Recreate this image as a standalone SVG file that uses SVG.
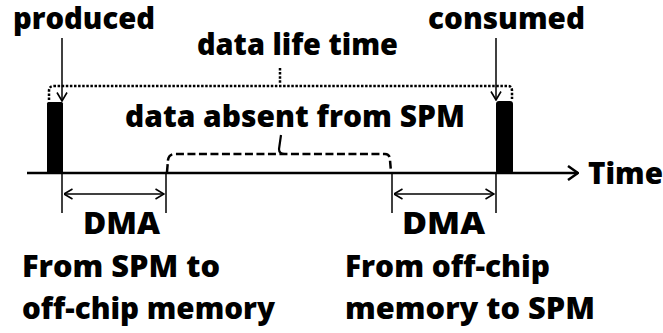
<svg xmlns="http://www.w3.org/2000/svg" width="663" height="333" viewBox="0 0 663 333">
  <style>
    .lbl { font-family: "Open Sans", Lato, "Liberation Sans", sans-serif; font-weight: 800; font-size: 29.5px; fill: #000; }
    .ln { stroke: #000; fill: none; }
    .axis { stroke-width: 2.5; }
    .thin { stroke-width: 1.5; }
    .dot { stroke-width: 2.5; stroke-dasharray: 2.5 1.6; }
    .dash { stroke-width: 2.5; stroke-dasharray: 8 3.5; }
    .bar { fill: #000; }
  </style>
  <defs>
    <marker id="head" viewBox="0 0 10 12" refX="9.5" refY="6" markerWidth="10" markerHeight="12" markerUnits="userSpaceOnUse" orient="auto-start-reverse">
      <path d="M1,1 L9.5,6 L1,11" fill="none" stroke="#000" stroke-width="1.6"/>
    </marker>
    <marker id="bighead" viewBox="0 0 12 16" refX="11" refY="8" markerWidth="12" markerHeight="16" markerUnits="userSpaceOnUse" orient="auto">
      <path d="M1,1 L11,8 L1,15" fill="none" stroke="#000" stroke-width="2.5"/>
    </marker>
  </defs>

  <!-- events on the time axis -->
  <g id="produced">
    <rect class="bar" x="47" y="102" width="16" height="72" rx="1.5"/>
    <text class="lbl" x="13" y="29" textLength="142" lengthAdjust="spacingAndGlyphs">produced</text>
  </g>
  <g id="consumed">
    <rect class="bar" x="496" y="101" width="17" height="73" rx="3"/>
    <text class="lbl" x="428" y="29" textLength="157" lengthAdjust="spacingAndGlyphs">consumed</text>
  </g>
  <g id="time">
    <text class="lbl" x="588" y="184" textLength="75" lengthAdjust="spacingAndGlyphs">Time</text>
  </g>

  <!-- interval labels -->
  <g id="lifetime">
    <text class="lbl" x="197" y="55" textLength="201" lengthAdjust="spacingAndGlyphs">data life time</text>
  </g>
  <g id="absent">
    <text class="lbl" x="125" y="127" textLength="340" lengthAdjust="spacingAndGlyphs">data absent from SPM</text>
  </g>
  <g id="dma-out">
    <text class="lbl" x="83" y="234" textLength="77" lengthAdjust="spacingAndGlyphs">DMA</text>
    <text class="lbl" x="22" y="277" textLength="198" lengthAdjust="spacingAndGlyphs">From SPM to</text>
    <text class="lbl" x="22" y="319" textLength="253" lengthAdjust="spacingAndGlyphs">off-chip memory</text>
  </g>
  <g id="dma-in">
    <text class="lbl" x="402" y="234" textLength="83" lengthAdjust="spacingAndGlyphs">DMA</text>
    <text class="lbl" x="345" y="277" textLength="205" lengthAdjust="spacingAndGlyphs">From off-chip</text>
    <text class="lbl" x="345" y="319" textLength="250" lengthAdjust="spacingAndGlyphs">memory to SPM</text>
  </g>

  <g id="connectors">
    <!-- time axis -->
    <line class="ln axis" x1="27" y1="173" x2="578" y2="173" marker-end="url(#bighead)"/>
    <!-- event pointers -->
    <line class="ln thin" x1="62" y1="38" x2="62" y2="101" marker-end="url(#head)"/>
    <line class="ln thin" x1="496" y1="38" x2="496" y2="100" marker-end="url(#head)"/>
    <!-- life time bracket (dotted) -->
    <path class="ln dot" d="M49,100 L49,91 Q49,86 54,86 L508,86 Q512,86 512,91 L512,99"/>
    <path class="ln dot" d="M280,68 L280,84"/>
    <!-- absence bracket (dashed) -->
    <path class="ln dash" d="M167,172 L168,160 Q169,154 175,154 L385,154 Q390,154 390,160 L391,172"/>
    <path class="ln" stroke-width="2.2" d="M281,135 L279,149 Q279,154 285,154"/>
    <!-- DMA spans -->
    <line class="ln thin" x1="62" y1="173" x2="62" y2="213"/>
    <line class="ln thin" x1="166" y1="173" x2="166" y2="213"/>
    <line class="ln thin" x1="64" y1="194" x2="164" y2="194" marker-start="url(#head)" marker-end="url(#head)"/>
    <line class="ln thin" x1="392" y1="173" x2="392" y2="213"/>
    <line class="ln thin" x1="496" y1="173" x2="496" y2="213"/>
    <line class="ln thin" x1="394" y1="194" x2="494" y2="194" marker-start="url(#head)" marker-end="url(#head)"/>
  </g>
</svg>
